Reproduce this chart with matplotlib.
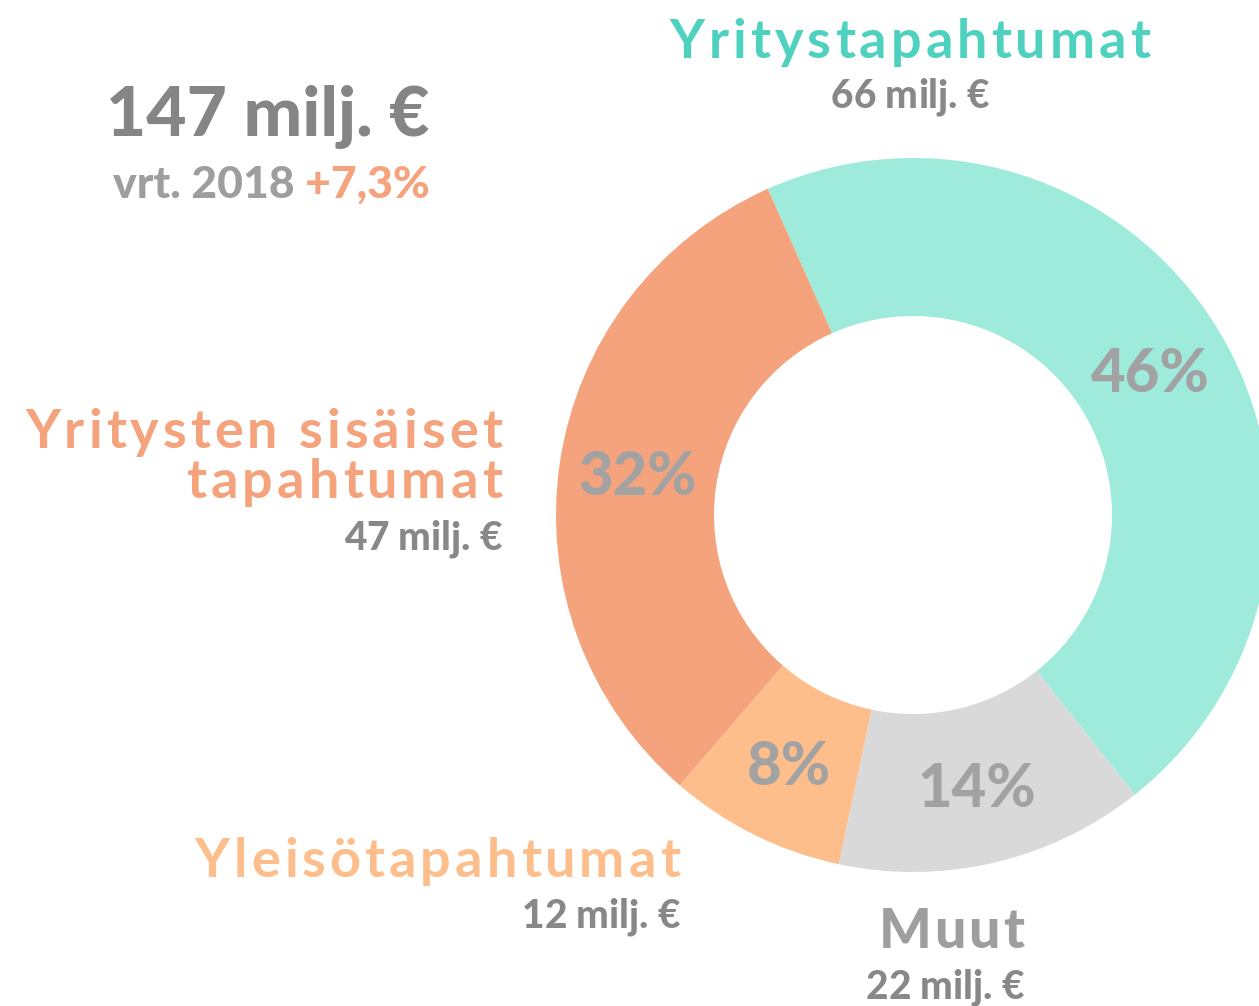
import matplotlib
matplotlib.use("Agg")
import matplotlib.pyplot as plt
import numpy as np
from matplotlib.font_manager import FontProperties

# data
categories = ["Yritystapahtumat", "Muut", "Yleisötapahtumat", "Yritysten sisäiset\ntapahtumat"]
shares = [46, 14, 8, 32]  # percent
values_meur = [66, 22, 12, 47]
total_meur = 147
compare_year = 2018
growth_label = "+7,3%"

wedge_colors = ["#9EEBDC", "#D9D9D9", "#FDBE8C", "#F4A37C"]
label_colors = ["#4ED1BF", "#9E9E9E", "#FDBE8C", "#F4A37C"]
GREY = "#888888"
PCT_GREY = "#A2A2A2"

W, H = 1259, 1006
fig = plt.figure(figsize=(W / 100, H / 100), dpi=100)
ax = fig.add_axes([0, 0, 1, 1])

wedges, _ = ax.pie(
    shares,
    startangle=114,
    counterclock=False,
    radius=357,
    center=(913, H - 515),
    colors=wedge_colors,
    wedgeprops=dict(width=158, linewidth=0),
)
ax.set_xlim(0, W)
ax.set_ylim(0, H)
ax.set_aspect("auto")
ax.axis("off")

renderer = fig.canvas.get_renderer()


def font(size, weight="bold"):
    return FontProperties(family="Lato", weight=weight, size=size)


def text_w(s, prop):
    return renderer.get_text_width_height_descent(s, prop, ismath=False)[0]


def tracked(x, y, s, size, color, track=0, ha="left", weight="bold"):
    # draw text letter by letter to get the wide letter spacing
    prop = font(size, weight)
    total = text_w(s, prop) + track * (len(s) - 1)
    if ha == "right":
        x0 = x - total
    elif ha == "center":
        x0 = x - total / 2
    else:
        x0 = x
    for k, c in enumerate(s):
        if c == " ":
            continue
        left = text_w(s[: k + 1], prop) - text_w(c, prop) + k * track
        ax.text(x0 + left, H - y, c, fontproperties=prop, color=color,
                ha="left", va="baseline")


# percentages in the ring
for w, p in zip(wedges, shares):
    mid = np.deg2rad((w.theta1 + w.theta2) / 2)
    r = 278
    cx = w.center[0] + r * np.cos(mid)
    cy = w.center[1] + r * np.sin(mid)
    ax.text(cx, cy - 21, f"{p}%", fontproperties=font(43, "black"), color=PCT_GREY,
            ha="center", va="baseline")

# headline
ax.text(268, H - 136, f"{total_meur} milj. €", fontproperties=font(50, "black"),
        color="#858585", ha="center", va="baseline")
g_prop = font(32, "black")
ax.text(430, H - 198, growth_label, fontproperties=g_prop, color="#F4A37C",
        ha="right", va="baseline")
gap = text_w(growth_label, g_prop) + text_w("a a", g_prop) - text_w("aa", g_prop)
ax.text(430 - gap, H - 198, f"vrt. {compare_year}", fontproperties=g_prop,
        color="#9E9E9E", ha="right", va="baseline")

# category labels
tracked(910, 58, categories[0], 39, label_colors[0], track=4, ha="center")
tracked(910, 108, f"{values_meur[0]} milj. €", 28, GREY, ha="center", weight="black")

line1, line2 = categories[3].split("\n")
tracked(502, 448, line1, 39, label_colors[3], track=4, ha="right")
tracked(502, 498, line2, 39, label_colors[3], track=4, ha="right")
tracked(502, 550, f"{values_meur[3]} milj. €", 28, GREY, ha="right", weight="black")

tracked(680, 877, categories[2], 39, label_colors[2], track=4, ha="right")
tracked(680, 928, f"{values_meur[2]} milj. €", 28, GREY, ha="right", weight="black")

tracked(1024, 948, categories[1], 40, label_colors[1], track=3, ha="right", weight="black")
tracked(1024, 999, f"{values_meur[1]} milj. €", 28, GREY, ha="right", weight="black")

fig.savefig("out.png", dpi=100)
